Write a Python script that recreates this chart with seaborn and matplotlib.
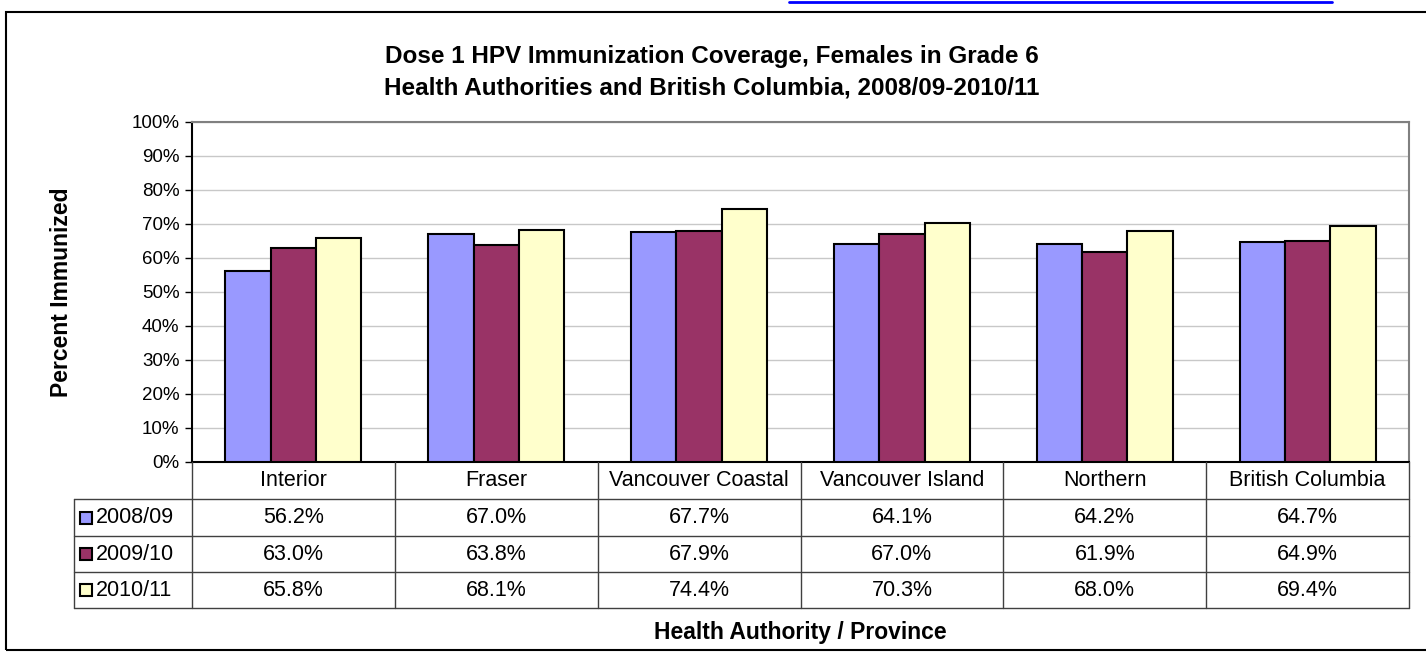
import matplotlib
matplotlib.use("Agg")
import matplotlib.pyplot as plt
import seaborn as sns
import pandas as pd
from matplotlib.patches import Rectangle
from matplotlib.lines import Line2D

regions = ["Interior", "Fraser", "Vancouver Coastal", "Vancouver Island", "Northern", "British Columbia"]
years = ["2008/09", "2009/10", "2010/11"]
v_2008 = [56.2, 67.0, 67.7, 64.1, 64.2, 64.7]
v_2009 = [63.0, 63.8, 67.9, 67.0, 61.9, 64.9]
v_2010 = [65.8, 68.1, 74.4, 70.3, 68.0, 69.4]
colors = ["#9999FF", "#993366", "#FFFFCC"]
yticks = list(range(0, 101, 10))

series = [v_2008, v_2009, v_2010]
rows = []
for y, vals in zip(years, series):
    for r, v in zip(regions, vals):
        rows.append({"Region": r, "Year": y, "Value": v})
df = pd.DataFrame(rows)

sns.set_style("white")
plt.rcParams['font.family'] = ['Liberation Sans', 'DejaVu Sans']
plt.rcParams['text.color'] = 'black'
plt.rcParams['ytick.color'] = 'black'
plt.rcParams['xtick.color'] = 'black'

W, H = 1426, 652
fig = plt.figure(figsize=(W / 100, H / 100), dpi=100)

def fx(px):
    return px / W

def fy(py):
    return 1 - py / H

L, R, T, B = 192, 1409, 122, 462
ax = fig.add_axes([fx(L), fy(B), fx(R - L), (B - T) / H])

sns.barplot(data=df, x="Region", y="Value", hue="Year", palette=colors, saturation=1,
            edgecolor="black", linewidth=1.5, width=0.67, ax=ax, legend=False,
            errorbar=None, zorder=3)

ax.set_ylim(0, 100)
ax.set_xlim(-0.5, len(regions) - 0.5)
ax.set_yticks(yticks)
ax.set_yticklabels([f"{t}%" for t in yticks], fontsize=13.5)
ax.tick_params(axis="y", length=5, width=1, color="black", direction="out", pad=4, left=True)
ax.set_xticks(range(len(regions)))
ax.set_xticklabels([])
ax.tick_params(axis="x", length=0)
ax.set_xlabel("")
ax.set_ylabel("")
for t in yticks[1:]:
    ax.axhline(t, color="#c8c8c8", linewidth=1, zorder=0)
for s in ["top", "right"]:
    ax.spines[s].set_color("#808080")
    ax.spines[s].set_linewidth(1.5)
ax.spines["left"].set_color("black")
ax.spines["left"].set_linewidth(1.5)
ax.spines["bottom"].set_color("black")
ax.spines["bottom"].set_linewidth(1.5)

# Table
row_y = [462, 499, 536, 572, 608]
leg_left = 74
cat_w = (R - L) / len(regions)
col_x = [L + i * cat_w for i in range(len(regions) + 1)]
lc = "#404040"
for x in col_x:
    fig.add_artist(Line2D([fx(x), fx(x)], [fy(row_y[0]), fy(row_y[-1])], color=lc, lw=1))
fig.add_artist(Line2D([fx(leg_left), fx(leg_left)], [fy(row_y[1]), fy(row_y[-1])], color=lc, lw=1))
for y in row_y[1:]:
    fig.add_artist(Line2D([fx(leg_left), fx(R)], [fy(y), fy(y)], color=lc, lw=1))

fs = 15.5
for i, r in enumerate(regions):
    cx = (col_x[i] + col_x[i + 1]) / 2
    fig.text(fx(cx), fy((row_y[0] + row_y[1]) / 2), r, ha="center", va="center", fontsize=fs)
    for j, vals in enumerate(series):
        fig.text(fx(cx), fy((row_y[j + 1] + row_y[j + 2]) / 2), f"{vals[i]:.1f}%",
                 ha="center", va="center", fontsize=fs)
for j, (yr, c) in enumerate(zip(years, colors)):
    cy = (row_y[j + 1] + row_y[j + 2]) / 2
    sq = 12
    fig.add_artist(Rectangle((fx(80), fy(cy + sq / 2)), sq / W, sq / H, facecolor=c,
                             edgecolor="black", lw=1.5, transform=fig.transFigure))
    fig.text(fx(96), fy(cy), yr, ha="left", va="center", fontsize=fs)

# Titles and labels
fig.text(fx(712), fy(56), "Dose 1 HPV Immunization Coverage, Females in Grade 6",
         ha="center", va="center", fontsize=17.5, fontweight="bold")
fig.text(fx(712), fy(88), "Health Authorities and British Columbia, 2008/09-2010/11",
         ha="center", va="center", fontsize=17.5, fontweight="bold")
fig.text(fx(62), fy(292), "Percent Immunized", ha="center", va="center",
         rotation=90, fontsize=16.5, fontweight="bold")
fig.text(fx(800), fy(632), "Health Authority / Province", ha="center", va="center",
         fontsize=16.5, fontweight="bold")

# Outer frame
fig.add_artist(Rectangle((fx(6), fy(650)), (1430 - 6) / W, (650 - 12) / H, facecolor="none",
                         edgecolor="black", lw=1.5, transform=fig.transFigure))
# Link underline fragment at top
fig.add_artist(Line2D([fx(789), fx(1332)], [fy(2), fy(2)], color="#0000FF", lw=2))

fig.savefig("out.png", dpi=100)
